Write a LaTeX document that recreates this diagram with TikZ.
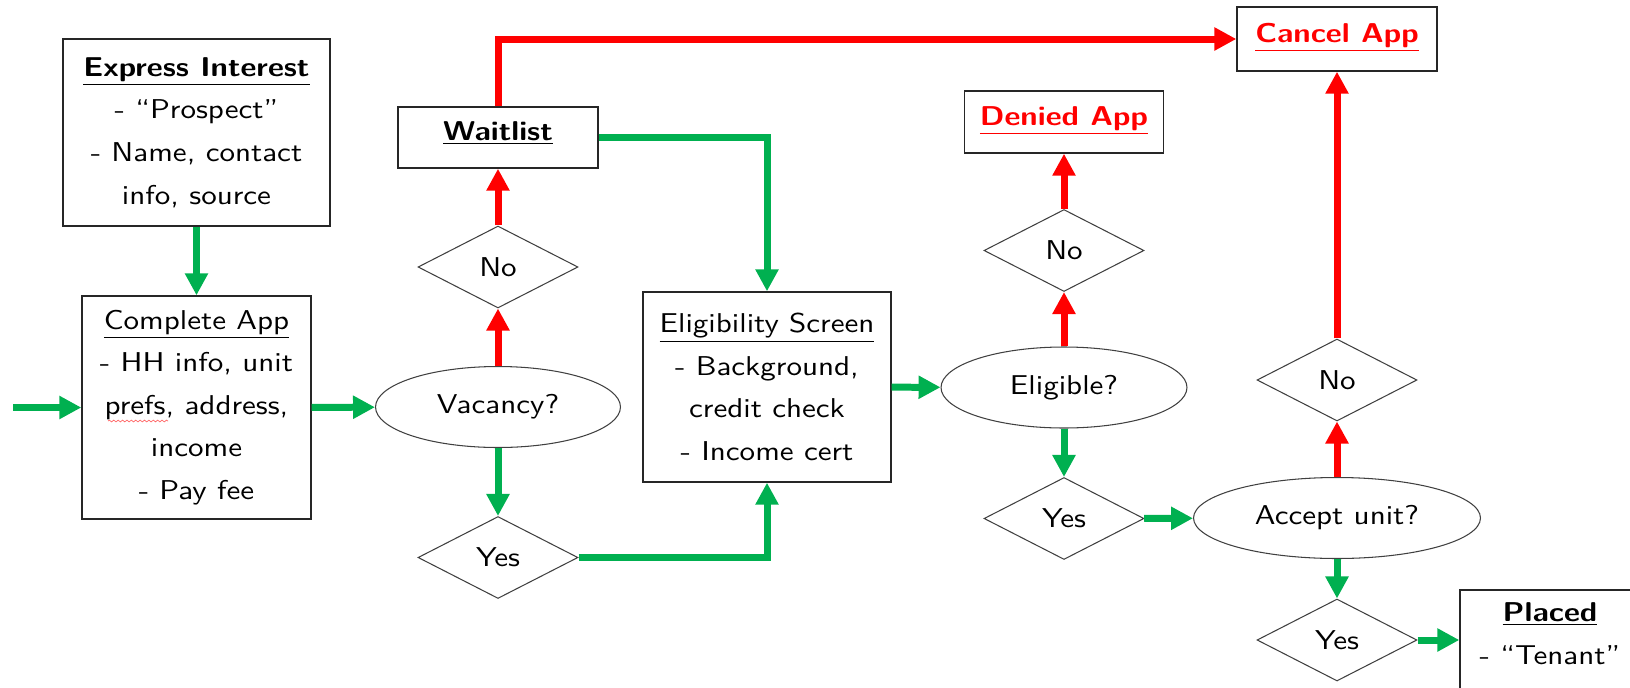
\documentclass[tikz,border=0pt]{standalone}
\usepackage{fontspec}
\setsansfont{lmsans10-regular.otf}[BoldFont=lmsans10-bold.otf, FakeStretch=1.14]
\usepackage{tikz}
\usetikzlibrary{shapes.geometric, arrows.meta, decorations.pathmorphing}
\definecolor{okgreen}{HTML}{00B050}
\definecolor{stopred}{HTML}{FF0000}
\tikzstyle{stepbox} = [rectangle, draw=black!85, line width=0.8pt, align=center, inner sep=0pt]
\tikzstyle{endbox} = [stepbox, text depth=0.25cm]
\tikzstyle{question} = [ellipse, draw=black!75, line width=0.6pt, minimum height=1.62cm, inner sep=0pt]
\tikzstyle{answer} = [diamond, draw=black!75, line width=0.6pt, minimum width=3.2cm, minimum height=1.64cm, inner sep=0pt]
\tikzstyle{goarrow} = [draw=okgreen, line width=0.14cm, -{Triangle[length=0.44cm, width=0.44cm]}]
\tikzstyle{stoparrow} = [draw=stopred, line width=0.14cm, -{Triangle[length=0.44cm, width=0.44cm]}]

\begin{document}
\begin{tikzpicture}[x=0.02cm, y=-0.02cm, every node/.style={font=\sffamily\fontsize{15.5pt}{24.2pt}\selectfont}]
\useasboundingbox (0,0) rectangle (1630,687);

% Intake
\coordinate (entry) at (13,407.5);
\node (express) [stepbox, minimum width=5.34cm, minimum height=3.74cm] at (196.5,132.5) {\underline{\textbf{Express Interest}}\\- ``Prospect''\\- Name, contact\\info, source};
\node (complete) [stepbox, minimum width=4.58cm, minimum height=4.46cm] at (196.5,407.5) {\underline{Complete App}\\- HH info, unit\\prefs, address,\\income\\- Pay fee};

% Vacancy check
\node (vacancy) [question, minimum width=4.9cm] at (498,407) {Vacancy?};
\node (noA) [answer] at (498,267) {No};
\node (waitlist) [endbox, minimum width=4cm, minimum height=1.22cm] at (498,137.5) {\underline{\textbf{Waitlist}}};
\node (yesA) [answer] at (498,557.5) {Yes};

% Screening
\node (elig) [stepbox, minimum width=4.96cm, minimum height=3.8cm] at (767,387) {\underline{Eligibility Screen}\\- Background,\\credit check\\- Income cert};
\node (eligible) [question, minimum width=4.92cm] at (1064,387.5) {Eligible?};
\node (noB) [answer] at (1064,250.5) {No};
\node (denied) [endbox, text=stopred, minimum width=3.98cm, minimum height=1.24cm] at (1064,122) {\underline{\textbf{Denied App}}};
\node (yesB) [answer] at (1064,518.5) {Yes};

% Unit offer
\node (accept) [question, minimum width=5.74cm] at (1337,518) {Accept unit?};
\node (noC) [answer] at (1337,380) {No};
\node (cancel) [endbox, text=stopred, minimum width=4cm, minimum height=1.28cm] at (1337,39) {\underline{\textbf{Cancel App}}};
\node (yesC) [answer] at (1337,640) {Yes};
\node (placed) [endbox, minimum width=3.6cm, minimum height=2cm] at (1550,640) {\underline{\textbf{Placed}}\\- ``Tenant''};

% spell-check squiggle under prefs
\draw [stopred!60, line width=0.4pt, decorate, decoration={snake, amplitude=0.5pt, segment length=2.5pt}] (108,421) -- (168,421);

% Arrows
\draw [goarrow] (entry) -- (complete.west);
\draw [goarrow] (express) -- (complete);
\draw [goarrow] (complete) -- (vacancy);
\draw [stoparrow] (vacancy) -- (noA);
\draw [stoparrow] (noA) -- (waitlist);
\draw [goarrow] (vacancy) -- (yesA);
\draw [goarrow] (waitlist.east) -| (elig.north);
\draw [goarrow] (yesA.east) -| (elig.south);
\draw [stoparrow] (waitlist.north) |- (cancel.west);
\draw [goarrow] (elig) -- (eligible);
\draw [stoparrow] (eligible) -- (noB);
\draw [stoparrow] (noB) -- (denied);
\draw [goarrow] (eligible) -- (yesB);
\draw [goarrow] (yesB) -- (accept);
\draw [stoparrow] (accept) -- (noC);
\draw [stoparrow] (noC) -- (cancel);
\draw [goarrow] (accept) -- (yesC);
\draw [goarrow] (yesC) -- (placed);

\end{tikzpicture}
\end{document}
